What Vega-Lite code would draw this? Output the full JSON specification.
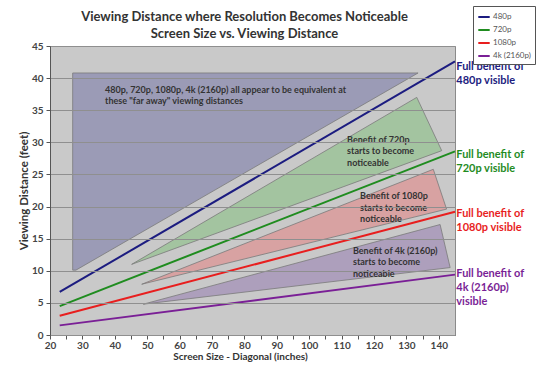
{
  "$schema": "https://vega.github.io/schema/vega-lite/v6.json",
  "width": 405,
  "height": 289,
  "autosize": {"type": "none"},
  "padding": {"left": 50, "top": 46, "right": 85, "bottom": 33},
  "background": "white",
  "config": {
    "font": "Lato",
    "view": {"fill": "#c9c9c9", "stroke": "#8a8a8a"}
  },
  "title": {
    "text": ["Viewing Distance where Resolution Becomes Noticeable", "Screen Size vs. Viewing Distance"],
    "fontSize": 13,
    "fontWeight": "bold",
    "color": "#333333",
    "anchor": "middle",
    "frame": "group",
    "dx": -8,
    "dy": 42,
    "offset": 7,
    "lineHeight": 17
  },
  "datasets": {
    "regions": [
      {"region": "far", "i": 1, "x": 27, "y": 10.1},
      {"region": "far", "i": 2, "x": 27, "y": 40.8},
      {"region": "far", "i": 3, "x": 133.6, "y": 40.8},
      {"region": "far", "i": 4, "x": 28, "y": 10.1},
      {"region": "far", "i": 5, "x": 27, "y": 10.1},
      {"region": "720p", "i": 1, "x": 45.2, "y": 11.0},
      {"region": "720p", "i": 2, "x": 133.2, "y": 37.0},
      {"region": "720p", "i": 3, "x": 140.9, "y": 28.7},
      {"region": "720p", "i": 4, "x": 45.2, "y": 11.0},
      {"region": "1080p", "i": 1, "x": 48.3, "y": 7.9},
      {"region": "1080p", "i": 2, "x": 138.3, "y": 25.8},
      {"region": "1080p", "i": 3, "x": 142.4, "y": 19.6},
      {"region": "1080p", "i": 4, "x": 48.3, "y": 7.9},
      {"region": "4k", "i": 1, "x": 48.8, "y": 4.8},
      {"region": "4k", "i": 2, "x": 140.4, "y": 17.2},
      {"region": "4k", "i": 3, "x": 143.5, "y": 10.5},
      {"region": "4k", "i": 4, "x": 48.8, "y": 4.8}
    ],
    "lines": [
      {"series": "480p", "x": 23, "y": 6.7},
      {"series": "480p", "x": 145, "y": 42.6},
      {"series": "720p", "x": 23, "y": 4.5},
      {"series": "720p", "x": 145, "y": 28.6},
      {"series": "1080p", "x": 23, "y": 3.0},
      {"series": "1080p", "x": 145, "y": 19.2},
      {"series": "4k (2160p)", "x": 23, "y": 1.5},
      {"series": "4k (2160p)", "x": 145, "y": 9.4}
    ],
    "notes": [
      {"x": 37.0, "y": 38.8, "text": "480p, 720p, 1080p, 4k (2160p) all appear to be equivalent at\nthese \"far away\" viewing distances"},
      {"x": 111.7, "y": 31.0, "text": "Benefit of 720p\nstarts to become\nnoticeable"},
      {"x": 115.7, "y": 22.2, "text": "Benefit of 1080p\nstarts to become\nnoticeable"},
      {"x": 113.5, "y": 13.75, "text": "Benefit of 4k (2160p)\nstarts to become\nnoticeable"}
    ],
    "labels": [
      {"series": "480p", "x": 145.4, "y": 42.6, "text": "Full benefit of\n480p visible"},
      {"series": "720p", "x": 145.4, "y": 29.0, "text": "Full benefit of\n720p visible"},
      {"series": "1080p", "x": 145.4, "y": 19.8, "text": "Full benefit of\n1080p visible"},
      {"series": "4k (2160p)", "x": 145.4, "y": 10.4, "text": "Full benefit of\n4k (2160p)\nvisible"}
    ]
  },
  "encoding": {
    "x": {
      "field": "x", "type": "quantitative",
      "scale": {"domain": [20, 145], "nice": false, "zero": false},
      "axis": {
        "title": "Screen Size - Diagonal (inches)",
        "titleFontSize": 10, "titleFontWeight": "bold", "titleColor": "#333333",
        "titleX": 190, "titlePadding": 1,
        "values": [20, 25, 30, 35, 40, 45, 50, 55, 60, 65, 70, 75, 80, 85, 90, 95, 100, 105, 110, 115, 120, 125, 130, 135, 140],
        "labelExpr": "datum.value % 10 === 0 ? datum.label : ''",
        "labelFontSize": 10, "labelFontWeight": "bold", "labelColor": "#444444",
        "labelOverlap": false, "labelFlush": false, "labelPadding": 1,
        "tickSize": 4, "tickColor": "#555555", "domainColor": "#555555",
        "grid": false
      }
    },
    "y": {
      "field": "y", "type": "quantitative",
      "scale": {"domain": [0, 45], "nice": false},
      "axis": {
        "title": "Viewing Distance (feet)",
        "titleFontSize": 11.5, "titleFontWeight": "bold", "titleColor": "#333333",
        "titlePadding": 2,
        "values": [0, 5, 10, 15, 20, 25, 30, 35, 40, 45],
        "labelOverlap": false,
        "labelFontSize": 10, "labelFontWeight": "bold", "labelColor": "#444444",
        "labelPadding": 3,
        "tickSize": 4, "tickColor": "#555555", "domainColor": "#555555",
        "grid": true, "gridColor": "#8f8f8f", "gridWidth": 1,
        "zindex": 1
      }
    }
  },
  "resolve": {"legend": {"color": "independent"}},
  "layer": [
    {
      "data": {"name": "regions"},
      "mark": {"type": "line", "stroke": "#7a7a7a", "strokeWidth": 0.8},
      "encoding": {
        "order": {"field": "i", "type": "quantitative"},
        "detail": {"field": "region", "type": "nominal"},
        "fill": {
          "field": "region", "type": "nominal",
          "scale": {"domain": ["far", "720p", "1080p", "4k"], "range": ["#9b9bb6", "#a3c4a0", "#d8a2a2", "#ad9fbc"]},
          "legend": null
        }
      }
    },
    {
      "data": {"name": "lines"},
      "mark": {"type": "line", "strokeWidth": 2},
      "encoding": {
        "color": {
          "field": "series", "type": "nominal",
          "scale": {"domain": ["480p", "720p", "1080p", "4k (2160p)"], "range": ["#1c1c80", "#1f8c1f", "#e81e1e", "#7a1f96"]},
          "legend": {
            "title": null, "orient": "none", "legendX": 423, "legendY": -40,
            "symbolType": "stroke", "symbolSize": 130, "symbolStrokeWidth": 2,
            "labelFontSize": 8, "labelColor": "#555555", "labelOffset": 2,
            "strokeColor": "#555555", "fillColor": "white", "padding": 4, "rowPadding": 2
          }
        }
      }
    },
    {
      "data": {"name": "notes"},
      "mark": {"type": "text", "align": "left", "baseline": "top", "lineBreak": "\n", "fontSize": 9, "fontWeight": "bold", "color": "#333333", "lineHeight": 11.5},
      "encoding": {
        "text": {"field": "text"}
      }
    },
    {
      "data": {"name": "labels"},
      "mark": {"type": "text", "align": "left", "baseline": "top", "lineBreak": "\n", "fontSize": 11, "fontWeight": "bold", "lineHeight": 14},
      "encoding": {
        "text": {"field": "text"},
        "color": {"field": "series", "type": "nominal", "legend": null}
      }
    }
  ]
}
